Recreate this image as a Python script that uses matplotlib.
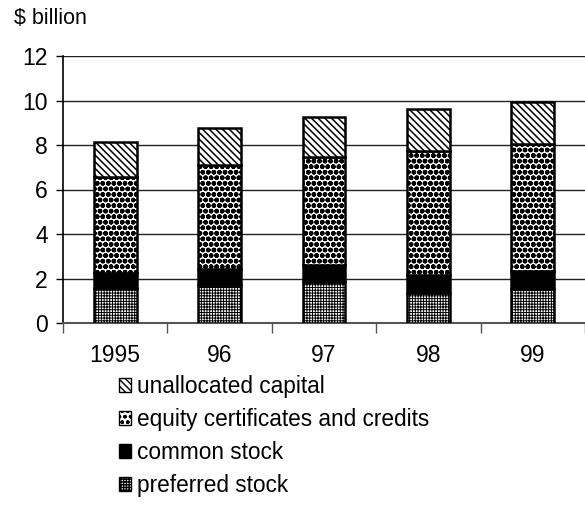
import numpy as np
import matplotlib
matplotlib.use('Agg')
import matplotlib.pyplot as plt
from matplotlib.patches import Patch

years = ['1995', '96', '97', '98', '99']
preferred = [1.58, 1.71, 1.85, 1.35, 1.53]
common = [0.68, 0.73, 0.77, 0.82, 0.82]
equity = [4.28, 4.64, 4.82, 5.54, 5.68]
unallocated = [1.59, 1.68, 1.81, 1.90, 1.89]
yticks = [0, 2, 4, 6, 8, 10, 12]

plt.rcParams['font.family'] = ['Liberation Sans', 'DejaVu Sans']

fig = plt.figure(figsize=(5.85, 5.21), dpi=100)
ax = fig.add_axes([63/585, 1-323/521, (585-63)/585, (323-56)/521])

x = np.arange(len(years))
w = 0.41
bottom = np.zeros(len(years))
# (values, hatch, face, label, hatch linewidth)
series = [
    (preferred, '++++++', 'white', 'preferred stock', 0.7),
    (common, None, 'black', 'common stock', 1.0),
    (equity, 'ooo', 'white', 'equity certificates and credits', 1.7),
    (unallocated, '\\\\\\\\\\', 'white', 'unallocated capital', 1.1),
]
handles = []
for vals, hatch, fc, label, hlw in series:
    with plt.rc_context({'hatch.linewidth': hlw}):
        ax.bar(x, vals, w, bottom=bottom, color=fc, edgecolor='black', hatch=hatch,
               linewidth=1.8, zorder=3)
        handles.append(Patch(facecolor=fc, edgecolor='black', hatch=hatch,
                             linewidth=1.0, label=label))
    bottom += np.array(vals)

ax.set_ylim(0, 12)
ax.set_xlim(-0.5, 4.5 - 3/105)
ax.set_yticks(yticks)
ax.set_yticklabels([str(t) for t in yticks], fontsize=16.5)
ax.set_xticks(x)
ax.set_xticklabels(years, fontsize=16.5)
ax.set_xticks(np.arange(-0.5, 5, 1), minor=True)
ax.tick_params(axis='x', which='major', length=0, pad=15)
ax.tick_params(axis='x', which='minor', length=7, width=1, direction='out', color='#555555')
ax.tick_params(axis='y', length=5, width=1, pad=6)
ax.yaxis.grid(True, color='#222222', linewidth=1, zorder=0)
ax.set_axisbelow(True)
for s in ['top', 'right']:
    ax.spines[s].set_visible(False)
ax.spines['left'].set_color('black')
ax.spines['left'].set_linewidth(1.2)
ax.spines['bottom'].set_color('#555555')
ax.spines['bottom'].set_linewidth(1.5)

fig.text(14/585, 1-19/521, '$ billion', fontsize=15.5, ha='left', va='center')

fig.legend(handles=handles[::-1], loc='upper left', bbox_to_anchor=(119/585, 1-375/521),
           frameon=False, fontsize=16.3, borderpad=0, borderaxespad=0,
           handlelength=0.55, handleheight=0.55, handletextpad=0.25, labelspacing=0.44)

fig.savefig('out.png', dpi=100)
